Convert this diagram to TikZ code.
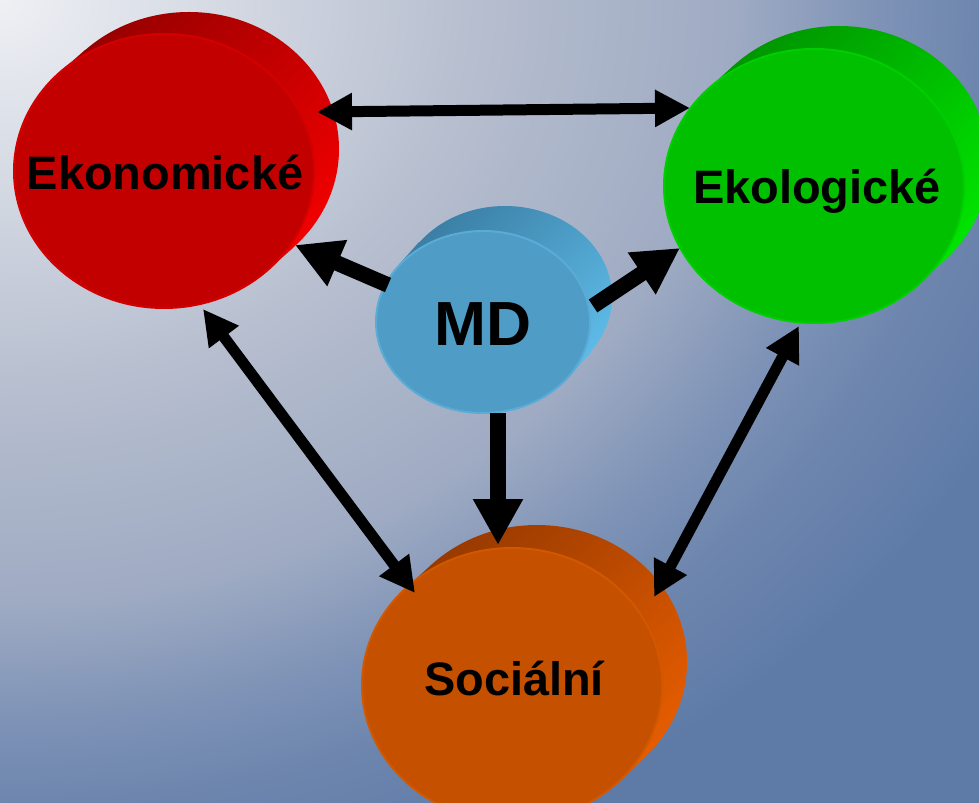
\documentclass[tikz,border=0pt]{standalone}
\usepackage{fontspec}
\setmainfont{Liberation Sans}
\usetikzlibrary{arrows.meta}
\definecolor{bgA}{HTML}{EEF0F4}
\definecolor{bgB}{HTML}{B5BDCE}
\definecolor{bgC}{HTML}{9FABC3}
\definecolor{bgD}{HTML}{7D92B6}
\definecolor{bgE}{HTML}{6E86AE}
\definecolor{bgF}{HTML}{5E7BA8}
\pgfdeclareradialshading{bgshade}{\pgfpoint{0bp}{0bp}}{color(0bp)=(bgA); color(10.87bp)=(bgB); color(16.3bp)=(bgC); color(19.57bp)=(bgD); color(21.74bp)=(bgE); color(25bp)=(bgF); color(50bp)=(bgF)}
\definecolor{ekonF}{HTML}{C20000}
\definecolor{ekonR}{HTML}{D40000}
\definecolor{ekonD}{HTML}{980000}
\definecolor{ekonL}{HTML}{F00000}
\definecolor{ekolF}{HTML}{00C000}
\definecolor{ekolR}{HTML}{00CE00}
\definecolor{ekolD}{HTML}{009600}
\definecolor{ekolL}{HTML}{00E400}
\definecolor{mdF}{HTML}{4F9DC6}
\definecolor{mdR}{HTML}{5AABD6}
\definecolor{mdD}{HTML}{3B7FA6}
\definecolor{mdL}{HTML}{5DBAE6}
\definecolor{socF}{HTML}{C45000}
\definecolor{socR}{HTML}{D25800}
\definecolor{socD}{HTML}{983A00}
\definecolor{socL}{HTML}{E45C00}
\tikzset{
  lbl/.style={inner sep=0pt, text=black, text height=19.1pt, text depth=0pt,
    font=\fontsize{26.7}{30}\selectfont\bfseries},
  biglbl/.style={lbl, text height=25.4pt, font=\fontsize{35.5}{40}\selectfont\bfseries},
  facefill/.style={line width=0.04cm},
  arr/.style={line width=0.22cm, {Triangle[length=0.7cm,width=0.7cm]}-{Triangle[length=0.7cm,width=0.7cm]}},
  bigarr/.style={line width=0.31cm, -{Triangle[length=0.92cm,width=0.94cm]}}
}
\begin{document}
\begin{tikzpicture}[x=0.02cm,y=-0.02cm]
\useasboundingbox (0,0) rectangle (979,803);
% background
\fill[bgF] (0,0) rectangle (979,803);
\begin{scope}
\clip (0,0) rectangle (979,803);
\shade[shading=bgshade] (0,0) ellipse [x radius=1126, y radius=923];
\end{scope}
% cylinder backs and sides
\shade[top color=ekonD, bottom color=ekonL, shading angle=45]
  (189,149) ellipse [x radius=150, y radius=137]
  (60,72) -- (85,50) -- (293,248) -- (268,270) -- cycle;
\shade[top color=ekolD, bottom color=ekolL, shading angle=45]
  (839,163) ellipse [x radius=150, y radius=137]
  (708,89) -- (733,66) -- (945,260) -- (920,283) -- cycle;
\shade[top color=mdD, bottom color=mdL, shading angle=45]
  (505,297) ellipse [x radius=107, y radius=91]
  (397,267) -- (419,242) -- (591,352) -- (569,377) -- cycle;
\shade[top color=socD, bottom color=socL, shading angle=45]
  (537,662) ellipse [x radius=150, y radius=137]
  (406,588) -- (431,565) -- (643,759) -- (618,782) -- cycle;
% front faces
\filldraw[facefill, fill=ekonF, draw=ekonR] (164,171) ellipse [x radius=150, y radius=137];
\filldraw[facefill, fill=ekolF, draw=ekolR] (814,186) ellipse [x radius=150, y radius=137];
\filldraw[facefill, fill=mdF, draw=mdR] (483,322) ellipse [x radius=107, y radius=91];
\filldraw[facefill, fill=socF, draw=socR] (512,685) ellipse [x radius=150, y radius=137];
% labels
\node[lbl] (ekon) at (165,173) {Ekonomické};
\node[lbl] (ekol) at (817,187) {Ekologické};
\node[biglbl] (md) at (483,323) {MD};
\node[lbl] (soc) at (514,679) {Sociální};
% connectors
\draw[arr] ([shift={(152,-61)}]ekon.center) -- ([shift={(-127,-79)}]ekol.center);
\draw[arr] ([shift={(38,136)}]ekon.center) -- ([shift={(-99,-86)}]soc.center);
\draw[arr] ([shift={(-18,139)}]ekol.center) -- ([shift={(140,-82)}]soc.center);
\draw[bigarr] ([shift={(-95,-38)}]md.center) -- ([shift={(130,72)}]ekon.center);
\draw[bigarr] ([shift={(110,-17)}]md.center) -- ([shift={(-137,61)}]ekol.center);
\draw[bigarr] ([shift={(15,90)}]md.center) -- ([shift={(-16,-134)}]soc.center);
\end{tikzpicture}
\end{document}
